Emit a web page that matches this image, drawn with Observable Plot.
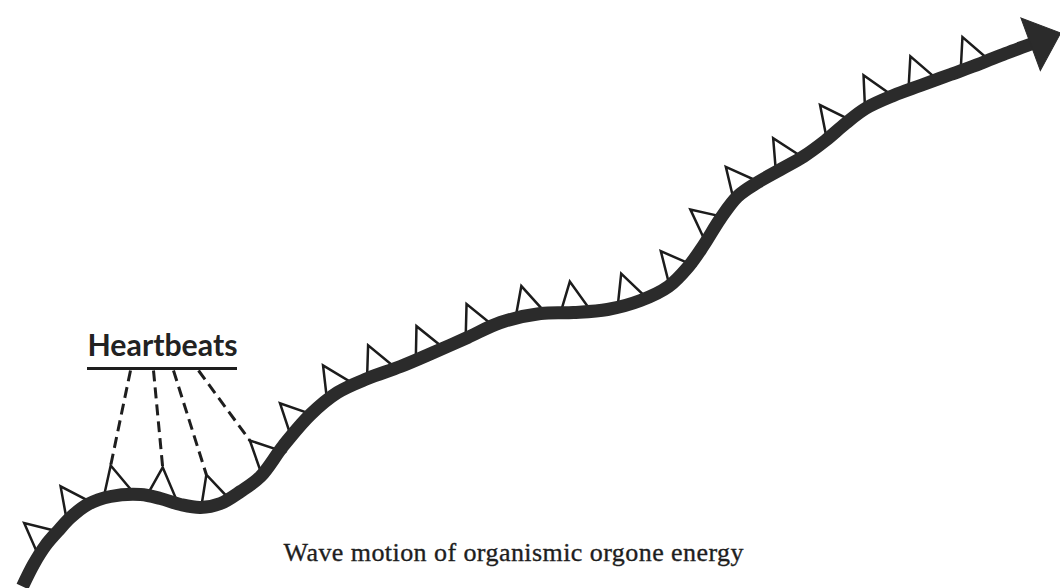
<!DOCTYPE html>
<html>
<head>
<meta charset="utf-8">
<script src="https://cdn.jsdelivr.net/npm/d3@7"></script>
<script src="https://cdn.jsdelivr.net/npm/@observablehq/plot@0.6"></script>
<style>
  html, body { margin: 0; padding: 0; background: #fff; }
  svg { display: block; }
</style>
</head>
<body>
<div id="chart"></div>
<script>
// Centre line of the wave of organismic orgone energy (pixel space of the figure)
const waveX = [22, 33, 45, 57, 70, 87, 110, 140, 160, 180, 200, 220, 240, 260, 283, 310, 337, 367, 400, 433, 467, 500, 540, 573, 607, 640, 668, 688, 703, 720, 737, 757, 780, 803, 825, 845, 865, 893, 920, 950, 980, 1005, 1032];
const waveY = [586, 564, 545, 531, 517, 504, 496, 494, 498, 504, 507, 503, 491, 476, 445, 414, 392, 378, 366, 352, 337, 322, 313, 312, 309, 300, 286, 266, 245, 218, 196, 182, 169, 156, 140, 123, 108, 95, 85, 74, 63, 53, 43];

// Heartbeats: apex of each small triangle riding on the wave
const beatX = [13, 52, 112, 163, 205, 247, 273, 312, 366, 413, 462, 519, 570, 621, 658, 686, 723, 769, 814, 861, 908, 960];
const beatY = [525, 482, 465, 467, 472, 448, 405, 363, 344, 325, 303, 286, 282, 278, 257, 215, 165, 137, 106, 74, 57, 37];

// "Heartbeats" label, its underline and the dashed pointers to four beats
const labelText = "Heartbeats";
const labelX = 162, labelY = 355;
const underlineX1 = 87, underlineX2 = 237, underlineY = 368;
const pointerStartX = [130, 153, 173, 198];
const pointerBeat = [2, 3, 4, 5];

const captionText = "Wave motion of organismic orgone energy";
const captionX = 513, captionY = 560;

// ---- derived tables ----
const wave = waveX.map((x, i) => ({x, y: waveY[i]}));
const n = wave.length;
const tangentAt = i => {
  const a = wave[Math.max(0, i - 1)], b = wave[Math.min(n - 1, i + 1)];
  return Math.atan2(b.y - a.y, b.x - a.x) * 180 / Math.PI;
};

// foot of each beat on the wave, and the local direction of the wave there
function footOf(px, py) {
  let best = null, bd = Infinity;
  for (let i = 0; i < n - 1; i++) {
    const a = wave[i], b = wave[i + 1];
    const dx = b.x - a.x, dy = b.y - a.y;
    const t = Math.max(0, Math.min(1, ((px - a.x) * dx + (py - a.y) * dy) / (dx * dx + dy * dy)));
    const qx = a.x + t * dx, qy = a.y + t * dy;
    const d = (qx - px) ** 2 + (qy - py) ** 2;
    if (d < bd) { bd = d; best = {x: qx, y: qy, angle: (1 - t) * tangentAt(i) + t * tangentAt(i + 1)}; }
  }
  return best;
}

const APEX = 31; // apex distance from the centre of the wave
const beats = beatX.map((x, i) => {
  const f = footOf(x, beatY[i]);
  const rot = 0.8 * f.angle; // the hand-drawn beats lean a little less than the wave
  const r = rot * Math.PI / 180;
  return {x: f.x, y: f.y, angle: rot, ax: f.x + APEX * Math.sin(r), ay: f.y - APEX * Math.cos(r)};
});
const pointers = pointerStartX.map((x, i) => ({
  x1: x, y1: underlineY + 2,
  x2: beats[pointerBeat[i]].ax, y2: beats[pointerBeat[i]].ay
}));
const last = wave[n - 1], prev = wave[n - 2];
const head = [{x: last.x, y: last.y, angle: Math.atan2(last.y - prev.y, last.x - prev.x) * 180 / Math.PI}];

// custom symbols (origin on the wave's centre line)
const beatSymbol = {
  draw(ctx) {
    ctx.moveTo(0, -APEX);
    ctx.lineTo(-11, 0);
    ctx.lineTo(20, 0);
    ctx.closePath();
  }
};
const headSymbol = {
  draw(ctx) {
    ctx.moveTo(-2, -28);
    ctx.lineTo(30, 0);
    ctx.lineTo(-2, 28);
    ctx.closePath();
  }
};

const ink = "#2b2b2b";

const chart = Plot.plot({
  width: 1060,
  height: 588,
  margin: 0,
  x: {domain: [0, 1060], range: [0, 1060], axis: null},
  y: {domain: [0, 588], range: [0, 588], axis: null},
  style: {background: "#fff", overflow: "visible"},
  marks: [
    Plot.link(pointers, {
      x1: "x1", y1: "y1", x2: "x2", y2: "y2",
      stroke: "#1e1e1e", strokeWidth: 3, strokeDasharray: "11,6"
    }),
    Plot.dot(beats, {
      x: "x", y: "y", rotate: "angle", symbol: beatSymbol,
      stroke: "#1c1c1c", strokeWidth: 2.5, fill: "none", strokeLinejoin: "miter"
    }),
    Plot.line(wave, {
      x: "x", y: "y", curve: "catmull-rom",
      stroke: ink, strokeWidth: 13, strokeLinecap: "butt", strokeLinejoin: "round"
    }),
    Plot.dot(head, {
      x: "x", y: "y", rotate: "angle", symbol: headSymbol,
      fill: ink, stroke: ink, strokeWidth: 1
    }),
    Plot.ruleY([underlineY], {x1: underlineX1, x2: underlineX2, stroke: "#1e1e1e", strokeWidth: 3}),
    Plot.text([labelText], {
      x: labelX, y: labelY, text: d => d, lineAnchor: "bottom",
      fontSize: 30, fontWeight: "bold", fontFamily: "Lato, 'Liberation Sans', sans-serif",
      fill: "#222", className: "hb-label"
    }),
    Plot.text([captionText], {
      x: captionX, y: captionY, text: d => d, lineAnchor: "bottom",
      fontSize: 26, fontFamily: "'Liberation Serif', serif",
      fill: "#1e1e1e", stroke: "#1e1e1e", strokeWidth: 0.35, className: "caption"
    })
  ]
});

document.getElementById("chart").appendChild(chart);

d3.select(chart).selectAll(".hb-label text")
  .attr("textLength", underlineX2 - underlineX1)
  .attr("lengthAdjust", "spacingAndGlyphs");
d3.select(chart).selectAll(".caption text")
  .attr("textLength", 460)
  .attr("lengthAdjust", "spacing");
</script>
</body>
</html>
